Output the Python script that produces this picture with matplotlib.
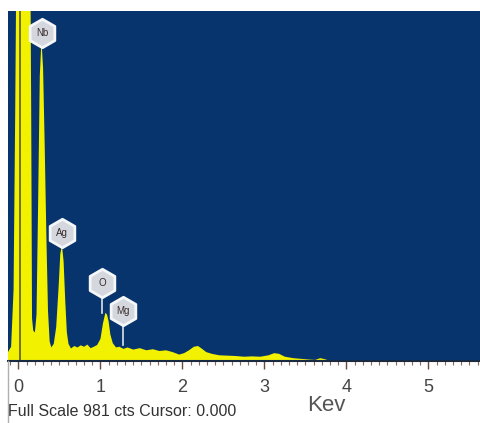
import matplotlib
matplotlib.use("Agg")
import matplotlib.pyplot as plt
from matplotlib.lines import Line2D

# spectrum (keV, counts); full scale is 981 cts
energy = [-0.128, -0.09, -0.06, -0.04, -0.02, 0.0, 0.05, 0.10, 0.14, 0.155,
          0.165, 0.18, 0.20, 0.22, 0.24, 0.26, 0.28, 0.30, 0.32, 0.34,
          0.36, 0.38, 0.40, 0.43, 0.46, 0.49, 0.51, 0.53, 0.55, 0.57,
          0.59, 0.61, 0.64, 0.68, 0.72, 0.76, 0.80, 0.84, 0.88, 0.92,
          0.96, 1.00, 1.03, 1.06, 1.08, 1.10, 1.12, 1.15, 1.19, 1.23,
          1.28, 1.33, 1.40, 1.48, 1.56, 1.64, 1.72, 1.80, 1.88, 1.96,
          2.02, 2.08, 2.14, 2.19, 2.24, 2.29, 2.36, 2.45, 2.55, 2.65,
          2.75, 2.85, 2.95, 3.05, 3.12, 3.18, 3.25, 3.35, 3.45, 3.55,
          3.62, 3.68, 3.72, 3.78, 3.85, 4.0, 5.0, 5.63]
counts = [25, 40, 200, 700, 1300, 1300, 1300, 1300, 1300, 700,
          120, 85, 80, 130, 450, 800, 900, 820, 600, 350,
          140, 55, 38, 48, 95, 210, 300, 325, 280, 170,
          80, 48, 35, 42, 38, 44, 40, 46, 36, 40,
          45, 62, 105, 135, 130, 110, 75, 50, 38, 40,
          34, 38, 32, 36, 30, 33, 28, 30, 25, 18,
          22, 30, 40, 42, 34, 25, 20, 16, 15, 14,
          12, 13, 12, 16, 22, 20, 12, 8, 6, 4,
          3, 8, 6, 2, 0, 0, 0, 0]

tick_values = [0, 1, 2, 3, 4, 5]
peak_labels = ["Nb", "Ag", "O", "Mg"]
peak_energy = [0.29, 0.53, 1.02, 1.28]
label_counts = [920, 360, 220, 140]
label_tip = [900, 325, 135, 45]

full_scale = 981
navy = "#08346e"
yellow = "#f2f200"
narrow = ["Liberation Sans Narrow", "Liberation Sans", "DejaVu Sans"]

fig = plt.figure(figsize=(4.8, 4.23), dpi=100)
ax = fig.add_axes([8 / 480, 62 / 423, 472 / 480, 350 / 423])
ax.set_facecolor(navy)
ax.fill_between(energy, counts, 0, color=yellow, lw=0)
ax.axvline(0.02, color="#5b5a10", lw=1.2)
ax.set_xlim(-0.128, 5.63)
ax.set_ylim(0, full_scale)

# peak markers
for name, e, yc, yt in zip(peak_labels, peak_energy, label_counts, label_tip):
    ax.plot([e, e], [yt, yc], color="#dde3ea", lw=1.2, zorder=3)
    ax.scatter([e], [yc], s=420, marker="h", color="#d4d8de",
               edgecolors="#f4f6f8", linewidths=2, zorder=4)
    ax.text(e, yc, name, ha="center", va="center", fontsize=7,
            color="#3a2a2a", zorder=5, family=narrow)

ax.set_yticks([])
ax.set_xticks(tick_values)
ax.set_xticks([i / 10 for i in range(-1, 57)], minor=True)
ax.set_xticklabels([str(t) for t in tick_values], family=narrow,
                   fontsize=13, color="#444444")
ax.tick_params(axis="x", which="major", length=6, width=1, color="#6a4a3a", pad=7)
ax.tick_params(axis="x", which="minor", length=3, width=0.8, color="#8a6a5a")
for side in ["left", "right", "top"]:
    ax.spines[side].set_visible(False)
ax.spines["bottom"].set_color("#1a2a40")
ax.spines["bottom"].set_linewidth(1.5)

fig.add_artist(Line2D([7.5 / 480, 7.5 / 480], [0, 62 / 423],
                      color="#b0b0b0", lw=1))
fig.text(8 / 480, 4 / 423, "Full Scale 981 cts Cursor: 0.000", family=narrow,
         fontsize=11.5, color="#333333", ha="left", va="bottom")
fig.text(326 / 480, 7 / 423, "Kev", family=narrow, fontsize=16,
         color="#555555", ha="center", va="bottom")

fig.savefig("out.png", dpi=100, facecolor="white")
